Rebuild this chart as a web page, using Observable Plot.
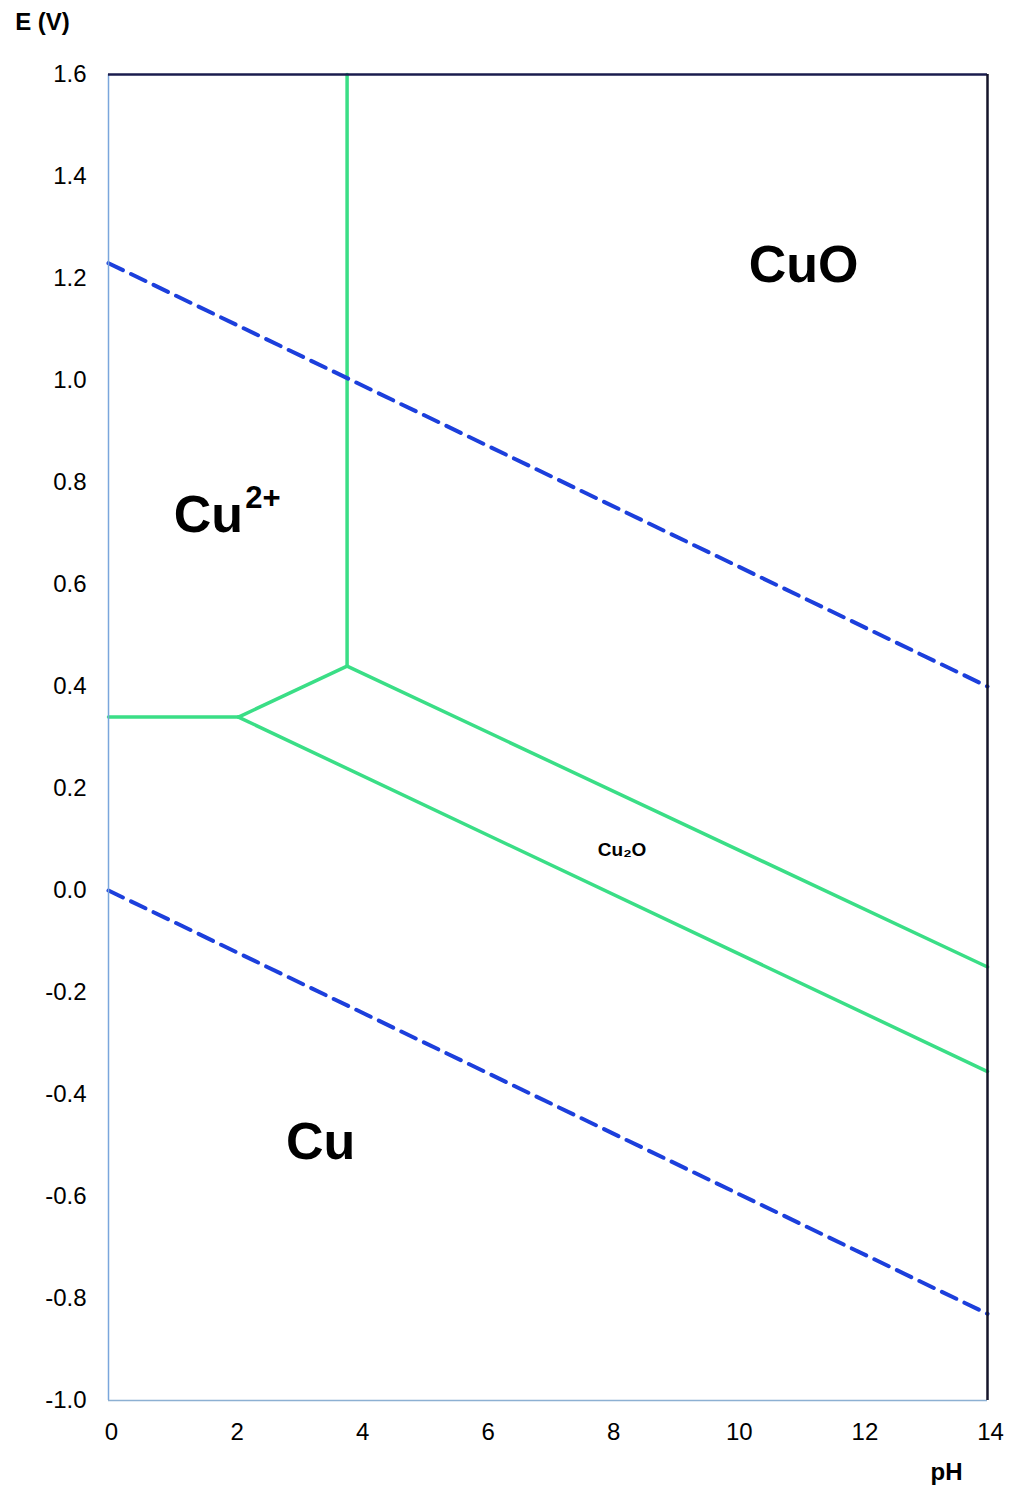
<!DOCTYPE html>
<html>
<head>
<meta charset="utf-8">
<script src="https://cdn.jsdelivr.net/npm/d3@7"></script>
<script src="https://cdn.jsdelivr.net/npm/@observablehq/plot@0.6"></script>
<style>
  html, body { margin: 0; padding: 0; background: #fff; }
  #chart svg { display: block; }
</style>
</head>
<body>
<div id="chart"></div>
<script>
// Axis ticks
const xTicks = [0, 2, 4, 6, 8, 10, 12, 14];
const yTicks = [-1.0, -0.8, -0.6, -0.4, -0.2, 0.0, 0.2, 0.4, 0.6, 0.8, 1.0, 1.2, 1.4, 1.6];

// Water stability lines (dashed): [pH, E]
const waterUpper = [[0, 1.23], [14, 0.40]];
const waterLower = [[0, 0.00], [14, -0.83]];

// Copper boundaries (green): [pH, E]
const cu2Cu = [[0, 0.34], [2.07, 0.34]];
const cu2Cu2O = [[2.07, 0.34], [3.8, 0.44]];
const cu2CuO = [[3.8, 1.6], [3.8, 0.44]];
const cu2oCuO = [[3.8, 0.44], [14, -0.15]];
const cuCu2O = [[2.07, 0.34], [14, -0.355]];

// Region labels (centered)
const regionNames = ["CuO", "Cu", "Cu₂O"];
const regionPH = [11.07, 3.38, 8.18];
const regionE = [1.225, -0.494, 0.08];
const regionSize = [52, 52, 19];
// Cu2+ label (left-anchored) and its superscript
const ionText = ["Cu"];
const ionPH = [1.04];
const ionE = [0.735];
const superText = ["2+"];
const superPH = [2.18];
const superE = [0.77];

const regions = regionNames.map((t, i) => ({t, x: regionPH[i], y: regionE[i], s: regionSize[i]}));

const green = "#3ade86";
const blue = "#1c3fdc";
const font = "'Liberation Sans', Arial, sans-serif";
const greenLine = (d) => Plot.line(d, {x: p => p[0], y: p => p[1], stroke: green, strokeWidth: 3.5});
const dashLine = (d) => Plot.line(d, {x: p => p[0], y: p => p[1], stroke: blue, strokeWidth: 4, strokeDasharray: "16,9"});

const chart = Plot.plot({
  width: 1011,
  height: 1488,
  marginTop: 74,
  marginBottom: 88,
  marginLeft: 108,
  marginRight: 24,
  style: {fontFamily: font, fontSize: "24px", color: "#000", background: "#fff"},
  x: {domain: [0, 14]},
  y: {domain: [-1.0, 1.6]},
  marks: [
    Plot.axisX({ticks: xTicks, tickSize: 0, tickPadding: 22, dx: 3, label: null, fontSize: 24, stroke: "#000", strokeWidth: 0.3}),
    Plot.axisY({ticks: yTicks, tickSize: 0, tickPadding: 22, label: null, fontSize: 24, stroke: "#000", strokeWidth: 0.3, tickFormat: d => d.toFixed(1)}),
    greenLine(cu2Cu),
    greenLine(cu2Cu2O),
    greenLine(cu2CuO),
    greenLine(cu2oCuO),
    greenLine(cuCu2O),
    dashLine(waterUpper),
    dashLine(waterLower),
    // frame
    Plot.ruleX([0], {y1: -1.0, y2: 1.6, stroke: "#7aa6dc", strokeWidth: 1.5}),
    Plot.ruleY([-1.0], {x1: 0, x2: 14, stroke: "#8db0d2", strokeWidth: 1.5}),
    Plot.ruleY([1.6], {x1: 0, x2: 14, stroke: "#1a1c4e", strokeWidth: 2.5}),
    Plot.ruleX([14], {y1: -1.0, y2: 1.6, stroke: "#15152a", strokeWidth: 2.5}),
    // labels
    Plot.text(regions, {x: "x", y: "y", text: "t", fontSize: "s", textAnchor: "middle", fontWeight: "bold", fill: "#000", fontFamily: font}),
    Plot.text(ionText, {x: ionPH, y: ionE, text: d => d, fontSize: 52, textAnchor: "start", fontWeight: "bold", fill: "#000", fontFamily: font}),
    Plot.text(superText, {x: superPH, y: superE, text: d => d, fontSize: 31, textAnchor: "start", fontWeight: "bold", fill: "#000", fontFamily: font}),
    Plot.text(["E (V)"], {frameAnchor: "top-left", dx: -66, dy: -52, lineAnchor: "middle", text: d => d, textAnchor: "middle", fontWeight: "bold", fontSize: 24, fill: "#000", fontFamily: font}),
    Plot.text(["pH"], {frameAnchor: "bottom-right", dx: -41, dy: 72, lineAnchor: "middle", text: d => d, textAnchor: "middle", fontWeight: "bold", fontSize: 24, fill: "#000", fontFamily: font})
  ]
});
document.getElementById("chart").appendChild(chart);
</script>
</body>
</html>
